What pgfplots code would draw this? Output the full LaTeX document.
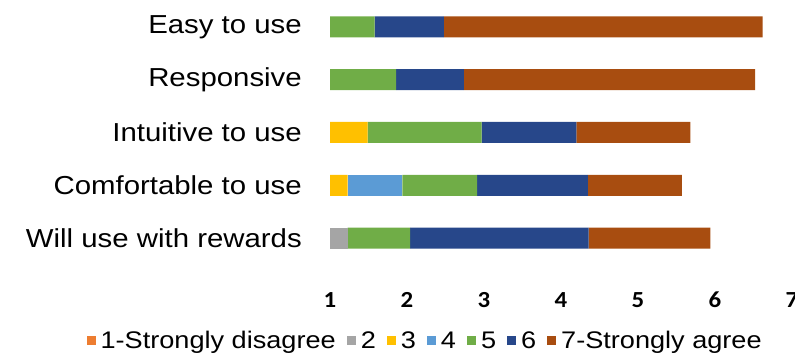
\documentclass[border=0pt]{standalone}
\usepackage{pgfplots}
\pgfplotsset{compat=1.18}
\usepackage{fontspec}
\setmainfont[FakeStretch=1.13]{Liberation Sans}
\newfontfamily\tickfont[FakeStretch=1.08]{Carlito}
\definecolor{c1}{HTML}{ED7D31}
\definecolor{c2}{HTML}{A5A5A5}
\definecolor{c3}{HTML}{FFC000}
\definecolor{c4}{HTML}{5B9BD5}
\definecolor{c5}{HTML}{70AD47}
\definecolor{c6}{HTML}{27478A}
\definecolor{c7}{HTML}{A84D10}
\begin{document}
\begin{tikzpicture}
\useasboundingbox (0,0) rectangle (795pt,358pt);
\begin{axis}[
  at={(330pt,93.6pt)}, anchor=south west,
  scale only axis, width=462pt, height=263.8pt,
  xbar stacked, bar width=21pt,
  xmin=0, xmax=6, ymin=0.5, ymax=5.5,
  xtick={0,1,2,3,4,5,6}, xticklabels={1,2,3,4,5,6,7},
  ytick={1,2,3,4,5},
  yticklabels={Will use with rewards,Comfortable to use,Intuitive to use,Responsive,Easy to use},
  axis lines=left, axis line style={draw=none}, tick style={draw=none},
  major tick length=0pt,
  yticklabel style={anchor=east, inner sep=0pt, xshift=-28pt, font=\fontsize{26}{30}\selectfont},
  xticklabel style={anchor=center, yshift=-35.6pt, font=\tickfont\bfseries\fontsize{23}{26}\selectfont},
  legend columns=-1,
  legend style={at={(0.206,-0.29)}, anchor=center, draw=none, fill=none,
    font=\fontsize{24}{28}\selectfont, inner sep=0pt,
    /tikz/every even column/.append style={column sep=9pt},
    /tikz/every odd column/.append style={column sep=3pt}},
  legend cell align=left,
  legend image code/.code={\fill[#1] (0pt,-4.5pt) rectangle (9pt,4.5pt);},
]
\addplot[fill=c1, draw=none] coordinates {(0,1) (0,2) (0,3) (0,4) (0,5)};
\addplot[fill=c2, draw=none] coordinates {(0.23,1) (0,2) (0,3) (0,4) (0,5)};
\addplot[fill=c3, draw=none] coordinates {(0,1) (0.23,2) (0.49,3) (0,4) (0,5)};
\addplot[fill=c4, draw=none] coordinates {(0,1) (0.71,2) (0,3) (0,4) (0,5)};
\addplot[fill=c5, draw=none] coordinates {(0.81,1) (0.97,2) (1.48,3) (0.86,4) (0.58,5)};
\addplot[fill=c6, draw=none] coordinates {(2.32,1) (1.44,2) (1.23,3) (0.88,4) (0.90,5)};
\addplot[fill=c7, draw=none] coordinates {(1.58,1) (1.22,2) (1.48,3) (3.78,4) (4.14,5)};
\legend{1-Strongly disagree,2,3,4,5,6,7-Strongly agree}
\end{axis}
\end{tikzpicture}
\end{document}
